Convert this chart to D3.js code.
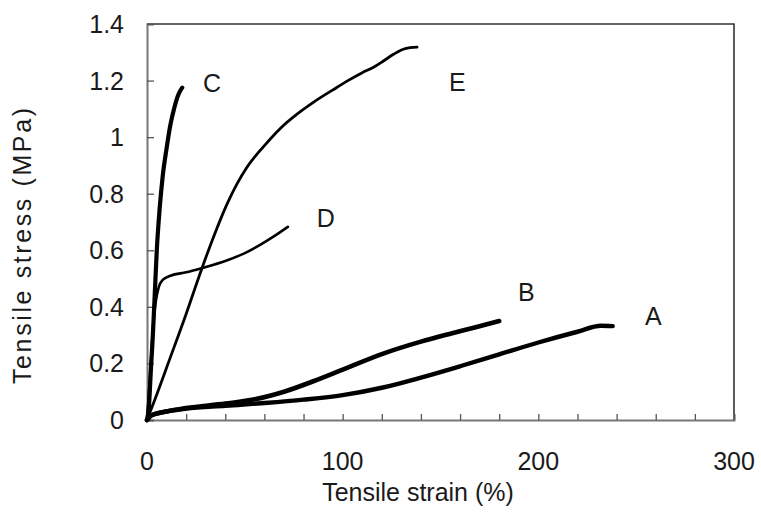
<!DOCTYPE html>
<html>
<head>
<meta charset="utf-8">
<script src="https://cdn.jsdelivr.net/npm/d3@7"></script>
<style>
  body { margin: 0; background: #fff; }
  text { font-family: "Liberation Sans", Arial, sans-serif; fill: #1a1a1a; }
</style>
</head>
<body>
<div class="graph"></div>
<script>
// strain (%), stress (MPa)
let curveA = [[0,0],[2,0.015],[10,0.03],[20,0.04],[40,0.05],[60,0.06],[80,0.072],[100,0.088],[120,0.114],[140,0.15],[160,0.19],[180,0.232],[200,0.274],[220,0.312],[232,0.333],[238,0.332]];
let curveB = [[0,0],[2,0.016],[10,0.03],[20,0.042],[40,0.058],[55,0.073],[70,0.1],[85,0.137],[100,0.178],[120,0.233],[140,0.277],[155,0.305],[168,0.328],[180,0.35]];
let curveC = [[0,0],[1,0.05],[2,0.18],[3,0.3],[4,0.45],[5,0.6],[6.5,0.75],[8,0.86],[10,0.96],[12,1.045],[14,1.105],[16,1.15],[18,1.175]];
let curveD = [[0,0],[1.5,0.15],[3,0.32],[4.5,0.42],[6,0.47],[8,0.495],[12,0.51],[20,0.522],[28,0.537],[40,0.562],[50,0.59],[58,0.62],[65,0.65],[72,0.683]];
let curveE = [[0,0],[5,0.09],[10,0.185],[20,0.375],[28,0.535],[35,0.665],[41,0.765],[46,0.835],[51,0.893],[60,0.97],[68,1.03],[77,1.083],[85,1.123],[95,1.167],[102,1.197],[110,1.228],[116,1.248],[121,1.27],[126,1.293],[132,1.313],[138,1.318]];

let seriesNames = ['A', 'B', 'C', 'D', 'E'];
// label anchor (left, baseline) in data units
let labelX = [254.5, 189.6, 28.6, 86.7, 154.3];
let labelY = [0.336, 0.42, 1.159, 0.682, 1.163];

let xTicks = [0, 100, 200, 300];
let yTicks = [0, 0.2, 0.4, 0.6, 0.8, 1, 1.2, 1.4];

let width = 761;
let height = 512;

let svg = d3.select('.graph')
    .append('svg')
    .attr('width', width)
    .attr('height', height);

let x = d3.scaleLinear().domain([0, 300]).range([147, 734]);
let y = d3.scaleLinear().domain([0, 1.4]).range([420, 24]);

// cadre haut et droit
svg.append('path')
    .attr('d', 'M' + x(0) + ',' + y(1.4) + 'H' + x(300) + 'V' + y(0))
    .attr('fill', 'none')
    .attr('stroke', '#333')
    .attr('stroke-width', 1.6);

// axe x : graduations vers l'intérieur tous les 20
let xAxis = d3.axisBottom(x)
    .tickValues(d3.range(0, 301, 20))
    .tickSize(-6)
    .tickFormat('');
svg.append('g')
    .attr('transform', 'translate(0,' + y(0) + ')')
    .call(xAxis)
    .call(g => g.select('.domain').attr('stroke', '#777').attr('stroke-width', 2))
    .call(g => g.selectAll('.tick line').attr('stroke', '#555').attr('stroke-width', 1.3));

svg.append('g')
    .selectAll('text')
    .data(xTicks)
    .enter()
    .append('text')
    .attr('x', d => x(d))
    .attr('y', 470)
    .attr('text-anchor', 'middle')
    .style('font-size', '25px')
    .text(d => d);

// axe y
let yAxis = d3.axisLeft(y)
    .tickValues(yTicks)
    .tickSize(-7)
    .tickFormat('');
svg.append('g')
    .attr('transform', 'translate(' + x(0) + ',0)')
    .call(yAxis)
    .call(g => g.select('.domain').attr('stroke', '#777').attr('stroke-width', 2))
    .call(g => g.selectAll('.tick line').attr('stroke', '#555').attr('stroke-width', 1.3));

svg.append('g')
    .selectAll('text')
    .data(yTicks)
    .enter()
    .append('text')
    .attr('x', 124)
    .attr('y', d => y(d))
    .attr('dy', '0.36em')
    .attr('text-anchor', 'end')
    .style('font-size', '25px')
    .text(d => d);

// titres des axes
svg.append('text')
    .attr('x', 418)
    .attr('y', 501)
    .attr('text-anchor', 'middle')
    .style('font-size', '25px')
    .text('Tensile strain (%)');

svg.append('text')
    .attr('transform', 'translate(31,246) rotate(-90)')
    .attr('text-anchor', 'middle')
    .style('font-size', '25px')
    .attr('textLength', 276)
    .text('Tensile stress (MPa)');

// courbes
let line = d3.line()
    .x(d => x(d[0]))
    .y(d => y(d[1]))
    .curve(d3.curveMonotoneX);

let curves = [curveA, curveB, curveC, curveD, curveE];
let widths = [4.4, 4.6, 4.2, 2.6, 2.8];

curves.forEach(function (c, i) {
    svg.append('path')
        .attr('d', line(c))
        .attr('fill', 'none')
        .attr('stroke', '#000')
        .attr('stroke-width', widths[i])
        .attr('stroke-linecap', 'round')
        .attr('stroke-linejoin', 'round');
});

// étiquettes des courbes
seriesNames.forEach(function (n, i) {
    svg.append('text')
        .attr('x', x(labelX[i]))
        .attr('y', y(labelY[i]))
        .style('font-size', '25px')
        .text(n);
});
</script>
</body>
</html>
